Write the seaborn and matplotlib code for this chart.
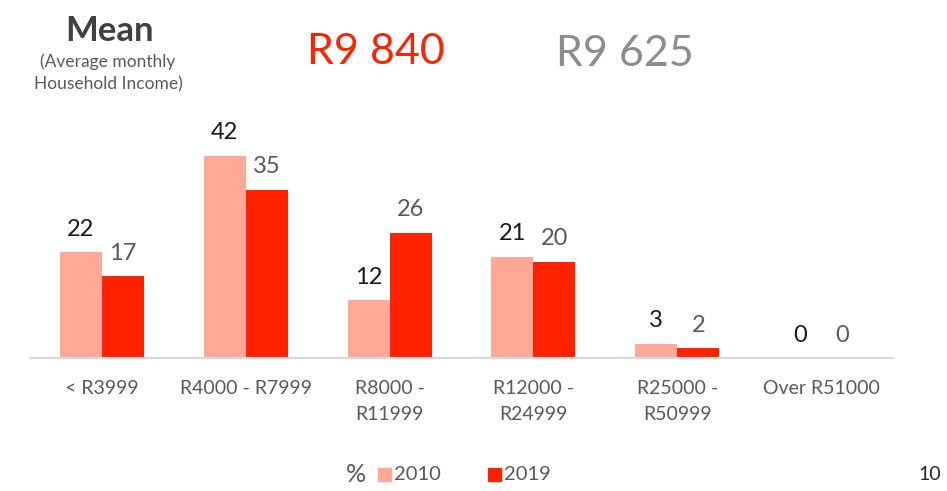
import matplotlib
matplotlib.use("Agg")
import matplotlib.pyplot as plt
import seaborn as sns
import pandas as pd

# Household income bands and share of households (%)
categories = ["< R3999", "R4000 - R7999", "R8000 -\nR11999", "R12000 -\nR24999",
              "R25000 -\nR50999", "Over R51000"]
years = ["2010", "2019"]
share_2010 = [22, 42, 12, 21, 3, 0]
share_2019 = [17, 35, 26, 20, 2, 0]
mean_2019 = "R9 840"
mean_2010 = "R9 625"

col_2010 = "#FFA898"
col_2019 = "#FF2200"

df = pd.DataFrame({
    "band": categories * 2,
    "year": [years[0]] * len(categories) + [years[1]] * len(categories),
    "share": share_2010 + share_2019,
})

sns.set_theme(style="white")
plt.rcParams["font.family"] = ["Lato", "DejaVu Sans"]

W, H = 947, 491
fig = plt.figure(figsize=(W / 100, H / 100), dpi=100)
ax = fig.add_axes([30 / W, (H - 358) / H, (893 - 30) / W, 258 / H])

sns.barplot(data=df, x="band", y="share", hue="year", order=categories,
            hue_order=years, palette=[col_2010, col_2019], width=0.585,
            gap=0, saturation=1, ax=ax, legend=False, linewidth=0)

ax.set_xlim(-0.5, len(categories) - 0.5)
ax.set_ylim(0, 53.6)
ax.set_xlabel("")
ax.set_ylabel("")
ax.set_yticks([])
for s in ["top", "right", "left"]:
    ax.spines[s].set_visible(False)
ax.spines["bottom"].set_color("#D9D9D9")
ax.spines["bottom"].set_linewidth(1.5)
ax.tick_params(axis="x", length=0, pad=16, labelsize=14, labelcolor="#595959")
for t in ax.get_xticklabels():
    t.set_linespacing(1.6)
    t.set_verticalalignment("top")

label_colors = ["#1A1A1A", "#595959"]
for cont, c in zip(ax.containers, label_colors):
    ax.bar_label(cont, labels=[f"{v:.0f}" for v in cont.datavalues],
                 padding=9, fontsize=17, color=c)

# Header: mean household income
fig.text(110 / W, 1 - 31 / H, "Mean", ha="center", va="center",
         fontsize=25, fontweight="bold", color="#404040")
fig.text(108 / W, 1 - 73 / H, "(Average monthly\nHousehold Income)",
         ha="center", va="center", fontsize=12.5, color="#595959", linespacing=1.45)
fig.text(376 / W, 1 - 52 / H, mean_2019, ha="center", va="center",
         fontsize=31, color=col_2019)
fig.text(625 / W, 1 - 54 / H, mean_2010, ha="center", va="center",
         fontsize=31, color="#8C8C8C")

# Legend
fig.text(356 / W, 1 - 474 / H, "%", ha="center", va="center",
         fontsize=18, color="#595959")
for x0, col, lab in [(378, col_2010, years[0]), (488, col_2019, years[1])]:
    fig.patches.append(plt.Rectangle((x0 / W, 1 - 481 / H), 13 / W, 13 / H,
                                     transform=fig.transFigure, color=col))
    fig.text((x0 + 16) / W, 1 - 474 / H, lab, ha="left", va="center",
             fontsize=14.5, color="#595959")

fig.text(918 / W, 1 - 474 / H, "10", ha="left", va="center",
         fontsize=14, color="#262626")

fig.savefig("out.png", dpi=100)
